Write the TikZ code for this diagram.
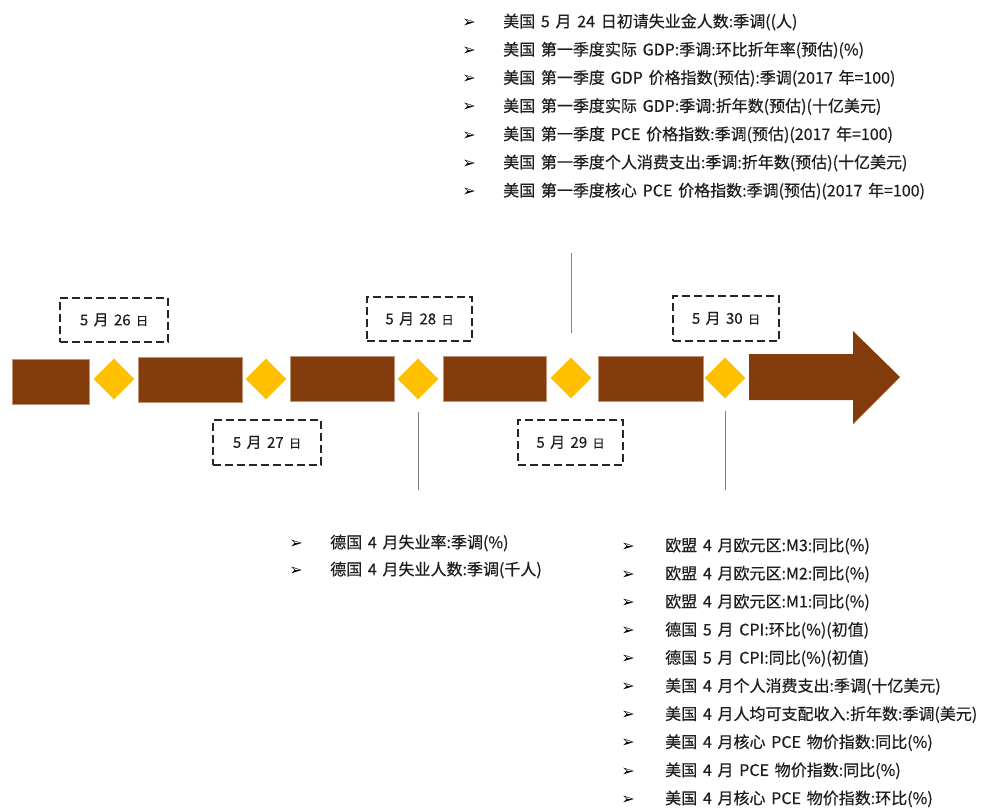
\documentclass[tikz,border=0pt]{standalone}
\usepackage{fontspec}
\setmainfont{Noto Sans CJK SC}[WordSpace=1.6]
\newfontfamily\symfont{DejaVu Sans}
\usetikzlibrary{shapes.geometric}
\definecolor{barbrown}{RGB}{132,60,12}
\definecolor{diayellow}{RGB}{255,192,0}
\definecolor{txt}{RGB}{30,30,30}
\begin{document}
\begin{tikzpicture}[x=1pt,y=-1pt,
  bar/.style={fill=barbrown, draw=barbrown!55!white, line width=0.4pt, minimum height=45pt, inner sep=0pt},
  dia/.style={diamond, fill=diayellow, minimum width=41pt, minimum height=41pt, inner sep=0pt},
  datebox/.style={draw=black!85, dash pattern=on 8pt off 4pt, line width=2.2pt, minimum height=44pt, inner sep=0pt, font=\fontsize{15}{17}\selectfont\addfontfeature{FakeBold=0.4}, text=txt},
  leader/.style={draw=black!50, line width=0.9pt},
  item/.style={anchor=west, inner sep=0pt, font=\fontsize{16}{18}\selectfont\addfontfeature{FakeBold=0.5}, text=txt},
  bul/.style={anchor=center, inner sep=0pt, font=\symfont\fontsize{16}{17}\selectfont},
]
\useasboundingbox (0,0) rectangle (987,808);

% timeline bars
\node[bar, minimum width=77pt]  (b1) at (50.5,381.5) {};
\node[bar, minimum width=104pt] (b2) at (190,379.5) {};
\node[bar, minimum width=104pt] (b3) at (342,378.5) {};
\node[bar, minimum width=103pt] (b4) at (494.5,378.5) {};
\node[bar, minimum width=105pt] (b5) at (650.5,378.5) {};
\fill[barbrown] (749,354) -- (853,354) -- (853,331) -- (900,377) -- (853,424) -- (853,400) -- (749,400) -- cycle;

% diamonds
\node[dia] (d1) at (114,379) {};
\node[dia] (d2) at (266,379) {};
\node[dia] (d3) at (418,379) {};
\node[dia] (d4) at (571,378) {};
\node[dia] (d5) at (725,378) {};

% date boxes
\node[datebox, minimum width=108pt] (t26) at (114,320) {5 月 26 {\fontsize{12}{14}\selectfont 日}};
\node[datebox, minimum width=105pt] (t28) at (419.5,319) {5 月 28 {\fontsize{12}{14}\selectfont 日}};
\node[datebox, minimum width=108pt, minimum height=45pt] (t27) at (267,442.5) {5 月 27 {\fontsize{12}{14}\selectfont 日}};
\node[datebox, minimum width=105pt, minimum height=45pt] (t29) at (570.5,442.5) {5 月 29 {\fontsize{12}{14}\selectfont 日}};
\node[datebox, minimum width=106pt, minimum height=45pt] (t30) at (726,318.5) {5 月 30 {\fontsize{12}{14}\selectfont 日}};

% leader lines
\coordinate (l3a) at (418,412); \coordinate (l3b) at (418,490);
\coordinate (l5a) at (725,411); \coordinate (l5b) at (725,490);
\coordinate (l4a) at (571,253); \coordinate (l4b) at (571,333);
\draw[leader] (l3a) -- (l3b);
\draw[leader] (l5a) -- (l5b);
\draw[leader] (l4a) -- (l4b);

% top list
\foreach \t [count=\i] in {
  {美国 5 月 24 日初请失业金人数:季调((人)},
  {美国 第一季度实际 GDP:季调:环比折年率(预估)(\%)},
  {美国 第一季度 GDP 价格指数(预估):季调(2017 年=100)},
  {美国 第一季度实际 GDP:季调:折年数(预估)(十亿美元)},
  {美国 第一季度 PCE 价格指数:季调(预估)(2017 年=100)},
  {美国 第一季度个人消费支出:季调:折年数(预估)(十亿美元)},
  {美国 第一季度核心 PCE 价格指数:季调(预估)(2017 年=100)}}
{
  \node[bul] (tb\i) at (469,{23+28.2*(\i-1)}) {➢};
  \node[item] (tt\i) at (503,{22+28.2*(\i-1)}) {\t};
}

% bottom middle list
\foreach \t [count=\i] in {
  {德国 4 月失业率:季调(\%)},
  {德国 4 月失业人数:季调(千人)}}
{
  \node[bul] (mb\i) at (296,{544+27*(\i-1)}) {➢};
  \node[item] (mt\i) at (330,{543+27*(\i-1)}) {\t};
}

% bottom right list
\foreach \t [count=\i] in {
  {欧盟 4 月欧元区:M3:同比(\%)},
  {欧盟 4 月欧元区:M2:同比(\%)},
  {欧盟 4 月欧元区:M1:同比(\%)},
  {德国 5 月 CPI:环比(\%)(初值)},
  {德国 5 月 CPI:同比(\%)(初值)},
  {美国 4 月个人消费支出:季调(十亿美元)},
  {美国 4 月人均可支配收入:折年数:季调(美元)},
  {美国 4 月核心 PCE 物价指数:同比(\%)},
  {美国 4 月 PCE 物价指数:同比(\%)},
  {美国 4 月核心 PCE 物价指数:环比(\%)}}
{
  \node[bul] (rb\i) at (628,{547+28.1*(\i-1)}) {➢};
  \node[item] (rt\i) at (665,{546+28.1*(\i-1)}) {\t};
}
\end{tikzpicture}
\end{document}
